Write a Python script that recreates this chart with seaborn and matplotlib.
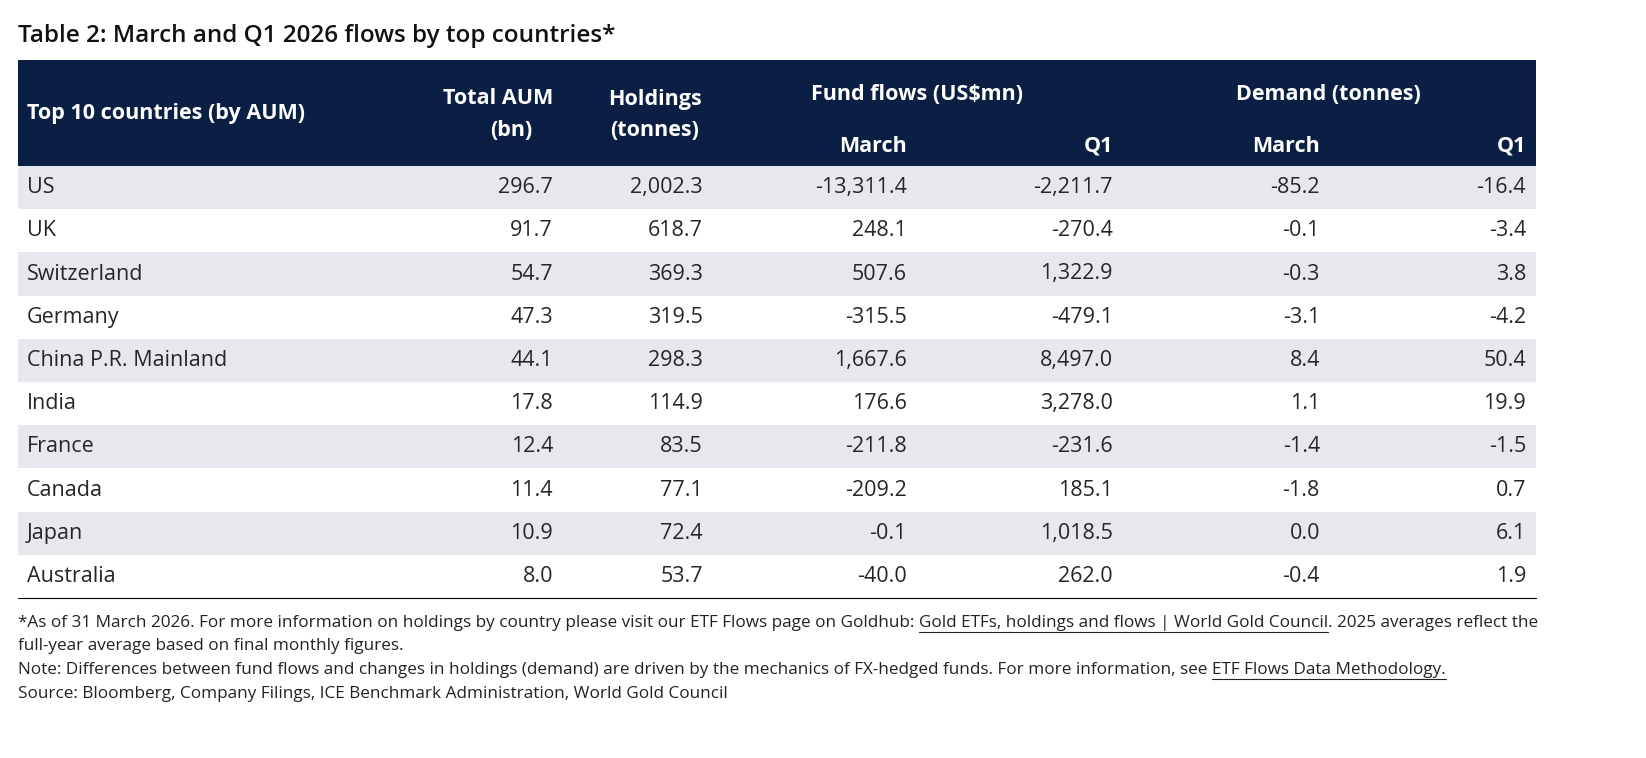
#Table 2 recreation: March and Q1 2026 ETF flows by top countries

# Load Packages=====================================================================================
import seaborn as sns
import matplotlib.pyplot as plt

# Data=============================================================================================
countries = ['US', 'UK', 'Switzerland', 'Germany', 'China P.R. Mainland', 'India',
             'France', 'Canada', 'Japan', 'Australia']
total_aum = [296.7, 91.7, 54.7, 47.3, 44.1, 17.8, 12.4, 11.4, 10.9, 8.0]
holdings = [2002.3, 618.7, 369.3, 319.5, 298.3, 114.9, 83.5, 77.1, 72.4, 53.7]
flows_march = [-13311.4, 248.1, 507.6, -315.5, 1667.6, 176.6, -211.8, -209.2, -0.1, -40.0]
flows_q1 = [-2211.7, -270.4, 1322.9, -479.1, 8497.0, 3278.0, -231.6, 185.1, 1018.5, 262.0]
demand_march = [-85.2, -0.1, -0.3, -3.1, 8.4, 1.1, -1.4, -1.8, 0.0, -0.4]
demand_q1 = [-16.4, -3.4, 3.8, -4.2, 50.4, 19.9, -1.5, 0.7, 6.1, 1.9]

title = 'Table 2: March and Q1 2026 flows by top countries*'
notes = [
  ['*As of 31 March 2026. For more information on holdings by country please visit our ETF Flows page on Goldhub: ',
   ('Gold ETFs, holdings and flows | World Gold Council', True), '. 2025 averages reflect the'],
  ['full-year average based on final monthly figures.'],
  ['Note: Differences between fund flows and changes in holdings (demand) are driven by the mechanics of FX-hedged funds. For more information, see ',
   ('ETF Flows Data Methodology.', True)],
  ['Source: Bloomberg, Company Filings, ICE Benchmark Administration, World Gold Council'],
]

# Style=============================================================================================
sns.set_style('white')
plt.rcParams['font.family'] = ['Open Sans', 'DejaVu Sans']
navy = '#0b1f45'
grey = '#e6e8ee'

fig = plt.figure(figsize=(16.46, 7.58), dpi=100)
ax = fig.add_axes([0, 0, 1, 1])
ax.set_xlim(0, 1646)
ax.set_ylim(758, 0)
ax.axis('off')

left, right = 18, 1536
top_row, row_h = 166, 43.2
cols_x = [553, 703, 907, 1113, 1320, 1526]

#title
ax.text(left, 36, title, fontsize=17.5, fontweight='semibold', va='center', ha='left', color='#111111')

#header band
ax.add_patch(plt.Rectangle((left, 60), right - left, top_row - 60, color=navy, lw=0))
hkw = dict(color='white', fontsize=15.5, fontweight='bold', va='center')
ax.text(27, 114, 'Top 10 countries (by AUM)', ha='left', **hkw)
ax.text(cols_x[0], 99, 'Total AUM', ha='right', **hkw)
ax.text(cols_x[0] - 42, 130, '(bn)', ha='center', **hkw)
ax.text(cols_x[1] - 48, 99, 'Holdings', ha='center', **hkw)
ax.text(cols_x[1] - 48, 130, '(tonnes)', ha='center', **hkw)
ax.text(917, 94, 'Fund flows (US$mn)', ha='center', **hkw)
ax.text(1328, 94, 'Demand (tonnes)', ha='center', **hkw)
for x, lab in zip(cols_x[2:], ['March', 'Q1', 'March', 'Q1']):
  ax.text(x, 146, lab, ha='right', **hkw)

#body rows
def fmt(v):
  return f'{v:,.1f}'

table = [total_aum, holdings, flows_march, flows_q1, demand_march, demand_q1]
for i, c in enumerate(countries):
  y0 = top_row + i * row_h
  if i % 2 == 0:
    ax.add_patch(plt.Rectangle((left, y0), right - left, row_h, color=grey, lw=0))
  yc = y0 + row_h / 2
  ax.text(27, yc, c, ha='left', va='center', fontsize=15.5)
  for x, col in zip(cols_x, table):
    ax.text(x, yc, fmt(col[i]), ha='right', va='center', fontsize=15.5)
ax.plot([left, right], [top_row + 10 * row_h] * 2, color='black', lw=0.8)

#footnotes with underlined links
fig.canvas.draw()
renderer = fig.canvas.get_renderer()
inv = ax.transData.inverted()
for j, parts in enumerate(notes):
  y = 623 + j * 23.5
  x = left
  for p in parts:
    txt, link = (p if isinstance(p, tuple) else (p, False))
    t = ax.text(x, y, txt, ha='left', va='center', fontsize=12.3, color='#222222')
    bb = t.get_window_extent(renderer)
    (x0, _), (x1, _) = inv.transform([[bb.x0, bb.y0], [bb.x1, bb.y1]])
    if link:
      ax.plot([x0, x1], [y + 9, y + 9], color='#222222', lw=0.8)
    x = x1

fig.savefig('out.png', dpi=100)
